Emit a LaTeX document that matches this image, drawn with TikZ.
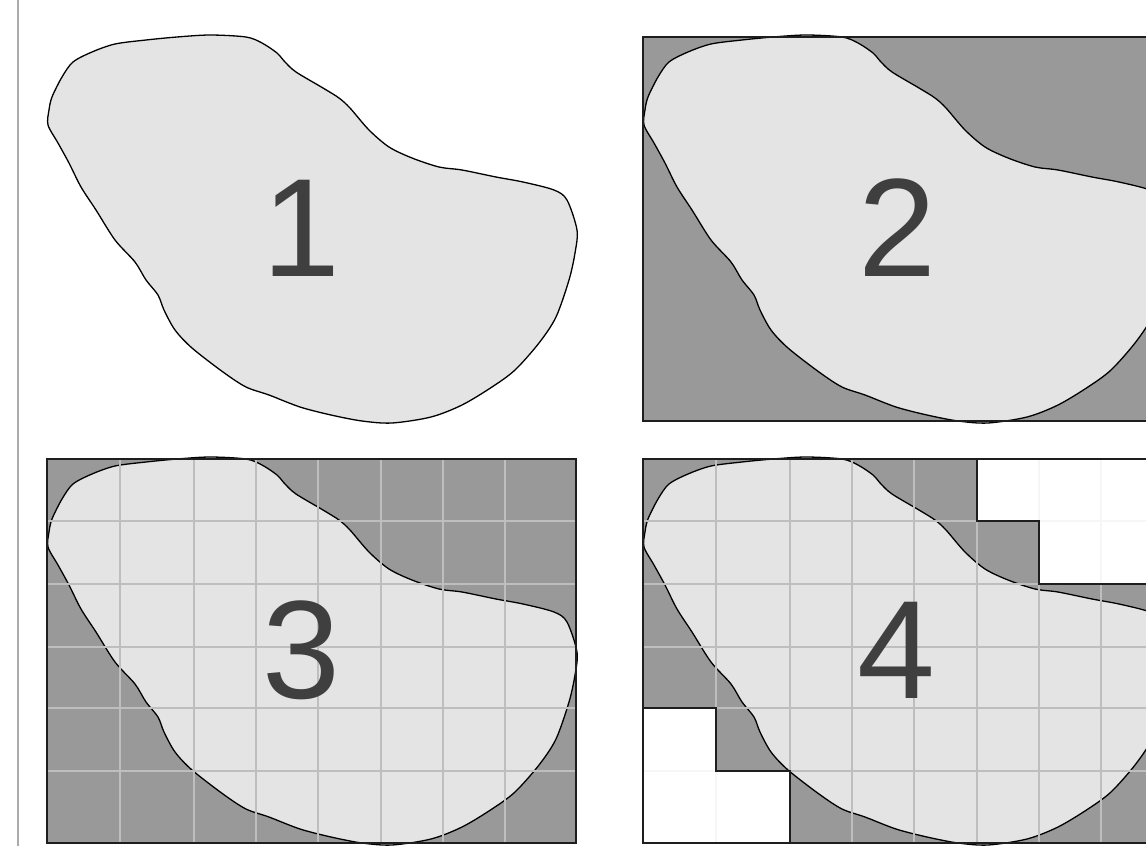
\documentclass[tikz,border=0pt]{standalone}
\usepackage{fontspec}
\usepackage{tikz}
\newfontfamily\digitfont{Liberation Sans}
\definecolor{blobfill}{HTML}{E4E4E4}
\definecolor{cellfill}{HTML}{999999}
\definecolor{gridline}{HTML}{BEBEBE}
\definecolor{faintline}{HTML}{F6F6F6}
\definecolor{digit}{HTML}{3F3F3F}
\definecolor{divider}{HTML}{ABABAB}
\definecolor{frame}{HTML}{1E1E1E}
\newcommand{\blobshape}{plot[smooth cycle, tension=0.5] coordinates {
    (210,35) (246,37) (262,43) (277,53) (285,62) (296,72) (323,88) (339,98)
    (350,108) (369,130) (389,147) (412,158) (439,167) (462,170) (496,177)
    (523,182) (554,190) (567,200) (577,230) (575,253) (569,280) (556,317)
    (539,343) (515,370) (492,387) (462,405) (431,417) (392,423) (362,421)
    (331,415) (300,407) (269,395) (246,387) (223,372) (192,348) (175,330)
    (164,310) (158,295) (146,280) (135,262) (115,240) (96,210) (81,187)
    (69,163) (58,143) (48,125) (49,110) (52,97) (62,77) (73,62) (92,52)
    (115,44) (146,40) (177,37)}}

\begin{document}
\begin{tikzpicture}[x=1pt, y=-1pt,
    blobarea/.style={fill=blobfill, draw=black, line width=1.3pt},
    darkcells/.style={fill=cellfill},
    frameline/.style={draw=frame, line width=1.5pt},
    gridrule/.style={gridline, line width=1.8pt},
    digitlabel/.style={font=\digitfont\fontsize{140}{140}\selectfont, text=digit, inner sep=0pt}]
    \useasboundingbox (0,0) rectangle (1146,846);
    \clip (0,0) rectangle (1146,846);

    % 分隔线
    \draw[divider, line width=2pt] (18,0) -- (18,846);

    % 1
    \filldraw[blobarea] \blobshape;

    % 2
    \begin{scope}[shift={(596,0)}]
        \fill[darkcells] (47,37) rectangle (576,421);
        \filldraw[blobarea] \blobshape;
        \draw[frameline] (47,37) rectangle (576,421);
    \end{scope}

    % 3
    \begin{scope}[shift={(0,422)}]
        \fill[darkcells] (47,37) rectangle (576,421);
        \filldraw[blobarea] \blobshape;
        \foreach \gx in {120,194,256,318,381,443,505}
            \draw[gridrule] (\gx,37) -- (\gx,421);
        \foreach \gy in {99,162,225,286,349}
            \draw[gridrule] (47,\gy) -- (576,\gy);
        \draw[frameline] (47,37) rectangle (576,421);
    \end{scope}

    % 4
    \begin{scope}[shift={(596,422)}]
        \fill[darkcells] (47,37) rectangle (576,421);
        \filldraw[blobarea] \blobshape;
        \foreach \gx in {120,194,256,318,381,443,505}
            \draw[gridrule] (\gx,37) -- (\gx,421);
        \foreach \gy in {99,162,225,286,349}
            \draw[gridrule] (47,\gy) -- (576,\gy);
        % 空白格
        \begin{scope}
            \clip (381,37) -- (381,99) -- (443,99) -- (443,162) -- (576,162) -- (576,37) -- cycle
                (47,286) -- (120,286) -- (120,349) -- (194,349) -- (194,421) -- (47,421) -- cycle;
            \fill[white] (47,37) rectangle (576,421);
            \foreach \gx in {120,194,256,318,381,443,505}
                \draw[faintline, line width=1.8pt] (\gx,37) -- (\gx,421);
            \foreach \gy in {99,162,225,286,349}
                \draw[faintline, line width=1.8pt] (47,\gy) -- (576,\gy);
        \end{scope}
        \draw[frameline] (381,37) -- (381,99) -- (443,99) -- (443,162) -- (576,162);
        \draw[frameline] (47,286) -- (120,286) -- (120,349) -- (194,349) -- (194,421);
        \draw[frameline] (47,37) rectangle (576,421);
    \end{scope}

    % 编号
    \node[digitlabel] (n1) at (301,228) {1};
    \node[digitlabel] (n2) at (897,228) {2};
    \node[digitlabel] (n3) at (301,650) {3};
    \node[digitlabel] (n4) at (896,650) {4};
\end{tikzpicture}
\end{document}
